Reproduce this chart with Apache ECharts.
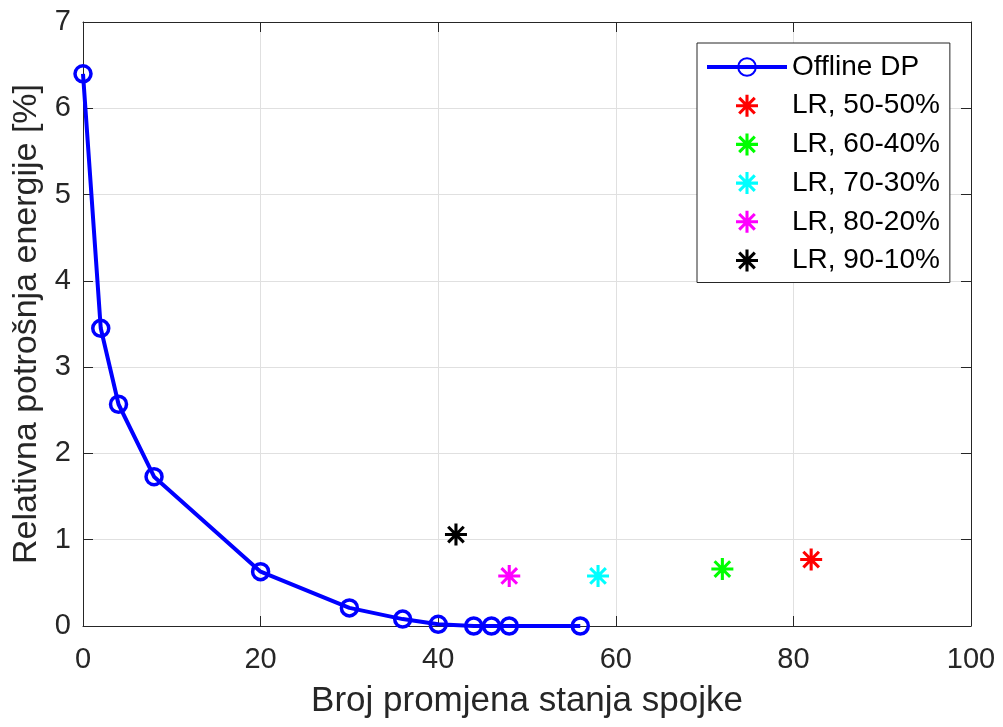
<!DOCTYPE html>
<html>
<head>
<meta charset="utf-8">
<title>Relativna potrošnja energije</title>
<script src="https://cdn.jsdelivr.net/npm/echarts@6/dist/echarts.min.js"></script>
<style>
	html, body { margin: 0; padding: 0; background: #fff; }
	#main { width: 1003px; height: 727px; }
</style>
</head>
<body>
<div id="main"></div>
<script>
/**
 * 数据
 */
// Offline DP 曲线
var dpX = [ 0, 2, 4, 8, 20, 30, 36, 40, 44, 46, 48, 56 ];
var dpY = [ 6.40, 3.45, 2.57, 1.73, 0.63, 0.21, 0.08, 0.02, 0.0, 0.0, 0.0, 0.0 ];
// LR 点
var lrNames = [ 'LR, 50-50%', 'LR, 60-40%', 'LR, 70-30%', 'LR, 80-20%', 'LR, 90-10%' ];
var lrX = [ 82, 72, 58, 48, 42 ];
var lrY = [ 0.77, 0.66, 0.58, 0.58, 1.06 ];
var lrColors = [ '#ff0000', '#00ff00', '#00ffff', '#ff00ff', '#000000' ];
// 坐标轴刻度
var xTicks = [ 0, 20, 40, 60, 80, 100 ];
var yTicks = [ 0, 1, 2, 3, 4, 5, 6, 7 ];

var FONT = "'Liberation Sans', Arial, Helvetica, sans-serif";
var AXIS_COLOR = '#262626';
// MATLAB 的 '*' 标记
var STAR = 'path://M43,0 L57,0 L57,100 L43,100 Z M0,43 L100,43 L100,57 L0,57 Z '
		+ 'M19.55,9.65 L90.35,80.45 L80.45,90.35 L9.65,19.55 Z '
		+ 'M90.35,19.55 L19.55,90.35 L9.65,80.45 L80.45,9.65 Z';

/**
 * 坐标轴
 */
function makeAxis(ticks, pos, showLabel, name, nameGap, nameSize) {
	return {
		type : 'value',
		position : pos,
		min : ticks[0],
		max : ticks[ticks.length - 1],
		interval : ticks[1] - ticks[0],
		name : name,
		nameLocation : 'middle',
		nameGap : nameGap,
		nameTextStyle : {
			fontFamily : FONT,
			fontSize : nameSize,
			color : AXIS_COLOR
		},
		axisLine : {
			show : true,
			onZero : false,
			lineStyle : { color : AXIS_COLOR, width : 1 }
		},
		axisTick : {
			show : true,
			inside : true,
			length : 10,
			lineStyle : { color : AXIS_COLOR, width : 1 }
		},
		axisLabel : {
			show : showLabel,
			fontFamily : FONT,
			fontSize : 29,
			color : AXIS_COLOR,
			margin : pos === 'bottom' ? 19 : 12
		},
		splitLine : {
			show : showLabel,
			lineStyle : { color : '#e0e0e0', width : 1 }
		}
	};
}

/**
 * 绘图
 */
function plotChart() {
	var myChart = echarts.init(document.getElementById('main'));

	var dpData = [];
	for (var i = 0; i < dpX.length; i++) {
		dpData.push([ dpX[i], dpY[i] ]);
	}

	var series = [ {
		name : 'Offline DP',
		type : 'line',
		data : dpData,
		symbol : 'circle',
		symbolSize : 16,
		clip : false,
		lineStyle : { color : '#0000ff', width : 4 },
		itemStyle : {
			color : 'rgba(0,0,0,0)',
			borderColor : '#0000ff',
			borderWidth : 3.5
		},
		z : 3
	} ];

	for (var j = 0; j < lrNames.length; j++) {
		series.push({
			name : lrNames[j],
			type : 'scatter',
			data : [ [ lrX[j], lrY[j] ] ],
			symbol : STAR,
			symbolSize : 22,
			clip : false,
			itemStyle : { color : lrColors[j], opacity : 1 },
			z : 4
		});
	}

	var option = {
		animation : false,
		backgroundColor : '#ffffff',
		grid : {
			left : 83,
			right : 32,
			top : 22,
			bottom : 101,
			containLabel : false
		},
		xAxis : [ makeAxis(xTicks, 'bottom', true, 'Broj promjena stanja spojke', 58, 35),
				makeAxis(xTicks, 'top', false, '', 0, 35) ],
		yAxis : [ makeAxis(yTicks, 'left', true, 'Relativna potrošnja energije [%]', 37, 34),
				makeAxis(yTicks, 'right', false, '', 0, 34) ],
		legend : {
			orient : 'vertical',
			left : 697,
			top : 43,
			padding : [ 10, 10, 8, 8 ],
			itemWidth : 80,
			itemHeight : 22,
			itemGap : 10.7,
			selectedMode : false,
			backgroundColor : '#ffffff',
			borderColor : AXIS_COLOR,
			borderWidth : 1,
			lineStyle : { width : 4 },
			itemStyle : { opacity : 1 },
			textStyle : {
				fontFamily : FONT,
				fontSize : 28,
				lineHeight : 28,
				color : '#000000'
			},
			data : [ 'Offline DP' ].concat(lrNames)
		},
		series : series
	};
	myChart.setOption(option);
}

plotChart();
</script>
</body>
</html>
